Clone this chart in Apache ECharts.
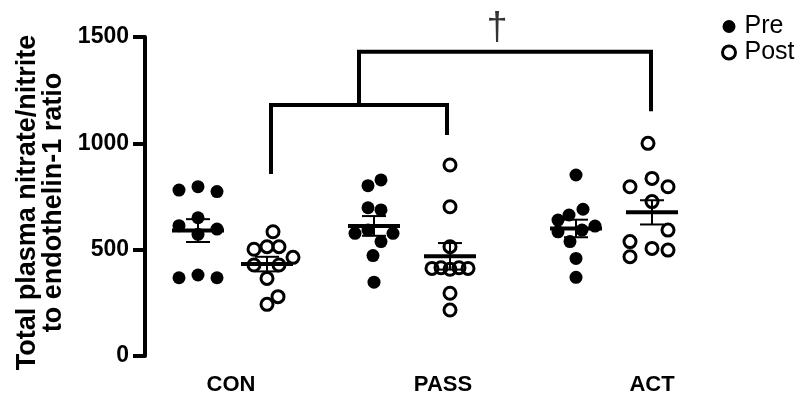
<!DOCTYPE html>
<html>
<head>
<meta charset="utf-8">
<script src="https://cdn.jsdelivr.net/npm/echarts@6/dist/echarts.min.js"></script>
<style>html,body{margin:0;padding:0;background:#fff}#c{width:800px;height:408px}</style>
</head>
<body>
<div id="c"></div>
<script>
// ---- data ----
const groups = ['CON', 'PASS', 'ACT'];
const seriesNames = ['Pre', 'Post'];
const yTicks = [0, 500, 1000, 1500];

const conPre   = [780, 796, 773, 613, 650, 597, 572, 368, 381, 368];
const conPost  = [584, 502, 514, 514, 464, 428, 428, 365, 243, 279];
const passPre  = [801, 828, 697, 687, 577, 592, 577, 538, 472, 347];
const passPost = [898, 702, 514, 412, 408, 412, 415, 415, 295, 216];
const actPre   = [851, 690, 639, 663, 611, 584, 592, 538, 459, 370];
const actPost  = [1000, 796, 835, 796, 726, 592, 538, 506, 498, 467];

// ---- layout (positions on a pixel-like x scale) ----
const colCenter = [53, 122, 229, 305, 431, 507];      // CON pre/post, PASS pre/post, ACT pre/post
const labelPos = [86, 298, 507];
const jitter = [
  [-19, 0, 19, -19, 0, 19, 0, -19, 0, 19],
  [6, -13, 0, 12, 26, -13, 12, 0, 0, 11],
  [-6, 7, -6, 7, -19, -6, 19, 7, -1, 0],
  [0, 0, 0, -18, 0, 18, -9, 9, 0, 0],
  [0, 7, -18, -7, 19, -18, 6, -6, 0, 0],
  [-4, -22, 0, 16, 0, 16, -22, 0, 16, -22]
];
const columns = [conPre, conPost, passPre, passPost, actPre, actPost];
// significance brackets (axis units)
const bracketLow  = [[126, 865], [126, 1180], [302, 1180], [302, 1049]];
const bracketHigh = [[214, 1180], [214, 1431], [506, 1431], [506, 1160]];
const daggerPos = [352, 1540];

function pts(ci) {
  return columns[ci].map((v, i) => [colCenter[ci] + jitter[ci][i], v]);
}
function stats(arr) {
  const n = arr.length;
  const m = arr.reduce((a, b) => a + b, 0) / n;
  const sd = Math.sqrt(arr.reduce((a, b) => a + (b - m) * (b - m), 0) / (n - 1));
  return [m, sd / Math.sqrt(n)];
}
const statData = columns.map((c, i) => { const s = stats(c); return [colCenter[i], s[0], s[1]]; });

const FONT = 'Liberation Sans, Arial, sans-serif';
const chart = echarts.init(document.getElementById('c'), null, { renderer: 'canvas' });

const preStyle = { color: '#000', borderColor: '#000', borderWidth: 0, opacity: 1 };
const postStyle = { color: 'rgba(255,255,255,0)', borderColor: '#000', borderWidth: 3, opacity: 1 };

chart.setOption({
  animation: false,
  backgroundColor: '#fff',
  textStyle: { fontFamily: FONT },
  grid: { left: 145, right: 100, top: 37, bottom: 52, containLabel: false, outerBoundsMode: 'none' },
  legend: {
    orient: 'vertical', left: 716, top: 9,
    itemWidth: 13, itemHeight: 13, itemGap: 1,
    textStyle: { fontFamily: FONT, fontSize: 25, color: '#000', padding: [0, 0, 0, 4] },
    data: [
      { name: 'Pre', icon: 'circle', itemStyle: { color: '#000', borderWidth: 0, opacity: 1 } },
      { name: 'Post', icon: 'circle', itemStyle: { color: '#fff', borderColor: '#000', borderWidth: 3, opacity: 1 } }
    ]
  },
  xAxis: {
    type: 'value', min: 0, max: 555,
    axisLine: { show: false }, axisTick: { show: false }, splitLine: { show: false },
    axisLabel: {
      customValues: labelPos,
      formatter: v => { const i = labelPos.indexOf(v); return i >= 0 ? groups[i] : ''; },
      fontFamily: FONT, fontWeight: 'bold', fontSize: 22, color: '#000', margin: 18
    }
  },
  yAxis: {
    type: 'value', min: 0, max: 1500, interval: 500,
    name: 'Total plasma nitrate/nitrite\nto endothelin-1 ratio',
    nameLocation: 'middle', nameRotate: 90, nameGap: 77,
    nameTextStyle: { fontFamily: FONT, fontWeight: 'bold', fontSize: 27, color: '#000', lineHeight: 26,
      padding: [0, 12, 0, 0] },
    axisLine: { show: true, lineStyle: { color: '#000', width: 4 } },
    axisTick: { show: true, length: 12, lineStyle: { color: '#000', width: 4 } },
    splitLine: { show: false },
    axisLabel: {
      customValues: yTicks,
      formatter: v => String(v),
      fontFamily: FONT, fontWeight: 'bold', fontSize: 23, color: '#000', margin: 16
    }
  },
  series: [
    { name: 'Pre', type: 'scatter', symbol: 'circle', symbolSize: 13, itemStyle: preStyle,
      data: [].concat(pts(0), pts(2), pts(4)), z: 2 },
    { name: 'Post', type: 'scatter', symbol: 'circle', symbolSize: 12, itemStyle: postStyle,
      data: [].concat(pts(1), pts(3), pts(5)), z: 2 },
    {
      type: 'custom', z: 3, silent: true, clip: false,
      data: statData,
      renderItem: function (params, api) {
        const x = api.value(0), m = api.value(1), s = api.value(2);
        const c = api.coord([x, m]), t = api.coord([x, m + s]), b = api.coord([x, m - s]);
        const st = w => ({ stroke: '#000', lineWidth: w });
        return { type: 'group', children: [
          { type: 'line', shape: { x1: c[0], y1: t[1], x2: c[0], y2: b[1] }, style: st(2) },
          { type: 'line', shape: { x1: c[0] - 12, y1: t[1], x2: c[0] + 12, y2: t[1] }, style: st(2) },
          { type: 'line', shape: { x1: c[0] - 12, y1: b[1], x2: c[0] + 12, y2: b[1] }, style: st(2) },
          { type: 'line', shape: { x1: c[0] - 26, y1: c[1], x2: c[0] + 26, y2: c[1] }, style: st(4) }
        ]};
      }
    },
    { type: 'line', data: bracketLow, symbol: 'none', silent: true, clip: false,
      lineStyle: { color: '#000', width: 4, join: 'miter', cap: 'square' } },
    { type: 'line', data: bracketHigh, symbol: 'none', silent: true, clip: false,
      lineStyle: { color: '#000', width: 4, join: 'miter', cap: 'square' } },
    { type: 'scatter', data: [daggerPos], symbolSize: 1, silent: true, clip: false,
      itemStyle: { color: 'rgba(0,0,0,0)' },
      label: { show: true, position: 'inside', formatter: '\u2020', fontFamily: FONT, fontSize: 38, color: '#000' } }
  ]
});
</script>
</body>
</html>
